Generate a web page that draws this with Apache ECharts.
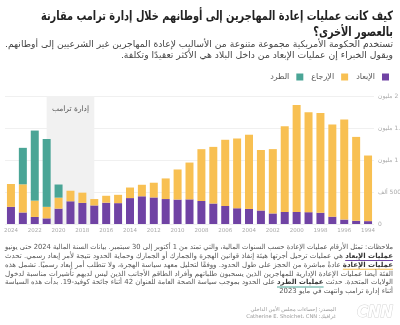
<!DOCTYPE html>
<html><head><meta charset="utf-8">
<script src="https://cdn.jsdelivr.net/npm/echarts@6/dist/echarts.min.js"></script>
<style>html,body{margin:0;padding:0;background:#fff}#c{width:400px;height:325px}</style>
</head><body><div id="c" dir="rtl"></div>
<script>
// ---- data ----
const years = ['2024','2023','2022','2021','2020','2019','2018','2017','2016','2015','2014','2013','2012','2011','2010','2009','2008','2007','2006','2005','2004','2003','2002','2001','2000','1999','1998','1997','1996','1995','1994'];
const removals = [268000,180000,110000,88000,240000,355000,330000,290000,333000,326000,405000,433000,415000,390000,382000,385000,359000,320000,281000,246000,235000,211000,165000,189000,188000,185000,176000,114000,69000,51000,45000];
const returns = [357000,440000,255000,180000,172000,165000,160000,100000,108000,130000,165000,180000,230000,322000,470000,575000,810000,885000,1035000,1090000,1160000,945000,1005000,1340000,1670000,1560000,1560000,1440000,1565000,1310000,1025000];
const expulsions = [0,570000,1095000,1060000,205000,0,0,0,0,0,0,0,0,0,0,0,0,0,0,0,0,0,0,0,0,0,0,0,0,0,0];
const seriesNames = ['الإبعاد','الإرجاع','الطرد'];
const yTickValues = [0,500000,1000000,1500000,2000000];
const yTickLabels = ['0','500 ألف','1 مليون','1.5 مليون','2 مليون'];
const trumpStart = '2021', trumpEnd = '2017';
const trumpLabel = 'إدارة ترامب';
const titleLines = ['كيف كانت عمليات إعادة المهاجرين إلى أوطانهم خلال إدارة ترامب مقارنة','بالعصور الأخرى؟'];
const subtitleLines = ['تستخدم الحكومة الأمريكية مجموعة متنوعة من الأساليب لإعادة المهاجرين غير الشرعيين إلى أوطانهم.','ويقول الخبراء إن عمليات الإبعاد من داخل البلاد هي الأكثر تعقيدًا وتكلفة.'];
const noteLines = [
  [['ملاحظات: تمثل الأرقام عمليات الإعادة حسب السنوات المالية، والتي تمتد من 1 أكتوبر إلى 30 سبتمبر. بيانات السنة المالية 2024 حتى يونيو',0]],
  [['عمليات الإبعاد',1],[' هي عمليات ترحيل أجرتها هيئة إنفاذ قوانين الهجرة والجمارك أو الجمارك وحماية الحدود نتيجة لأمر إبعاد رسمي. تحدث',0]],
  [['عمليات الإعادة',2],[' عادةً مباشرة من الحجز على طول الحدود. ووفقًا لتحليل معهد سياسة الهجرة، ولا تتطلب أمر إبعاد رسميًا. تشمل هذه',0]],
  [['الفئة أيضا عمليات الإعادة الإدارية للمهاجرين الذين يسحبون طلباتهم وأفراد الطاقم الأجانب الذين ليس لديهم تأشيرات مناسبة لدخول',0]],
  [['الولايات المتحدة. حدثت ',0],['عمليات الطرد',3],[' على الحدود بموجب سياسة الصحة العامة للعنوان 42 أثناء جائحة كوفيد-19. بدأت هذه السياسة',0]],
  [['أثناء إدارة ترامب وانتهت في مايو 2023',0]]
];
const sourceLines = ['المصدر: إحصاءات مجلس الأمن الداخلي','غرافيك: Catherine E. Shoichet، CNN'];

// ---- style ----
const colors = ['#7043a4','#f8c052','#4aa596'];
const FF = 'DejaVu Sans';
const chart = echarts.init(document.getElementById('c'), null, {renderer:'canvas'});

const mc = document.createElement('canvas').getContext('2d');
function tw(t, size, bold){ mc.font = (bold?'bold ':'') + size + 'px "' + FF + '"'; return mc.measureText(t).width; }

function txt(t, x, y, size, color, bold, align, sx){
  return {type:'text', x:x, y:y, scaleX:sx||1, style:{text:t, fontSize:size, fontFamily:FF, fontWeight:bold?'bold':'normal', fill:color, align:align||'right', verticalAlign:'middle'}};
}
const graphics = [];
// title
const TS = 12.8;
const tsx = 352 / tw(titleLines[0], TS, true);
titleLines.forEach((t,i)=>graphics.push(txt(t, 393, 17 + i*16, TS, '#222', true, 'right', tsx)));
// subtitle
const SS = 9.2;
const ssx = 388 / tw(subtitleLines[0], SS, false);
subtitleLines.forEach((t,i)=>graphics.push(txt(t, 393, 44.5 + i*11, SS, '#444', false, 'right', ssx)));

// notes (justified, right to left)
const NF = 7;
let lastS = 1;
noteLines.forEach((segs,i)=>{
  const y = 247 + i*8.9;
  let tot = 0;
  const ws = segs.map(s=>{ const w = tw(s[0], NF, !!s[1]); tot += w; return w; });
  let rich = '';
  segs.slice().reverse().forEach(s=>{ rich += (s[1]? '{b|':'{n|') + s[0] + '}'; });
  const s = (i < noteLines.length-1) ? 388 / tot : lastS;
  lastS = s;
  graphics.push({type:'text', x:393, y:y, scaleX:s, style:{text:rich, align:'right', verticalAlign:'middle',
    rich:{n:{fontSize:NF, fontFamily:FF, fill:'#555'}, b:{fontSize:NF, fontFamily:FF, fontWeight:'bold', fill:'#333'}}}});
  let xr = 393;
  segs.forEach((sg,k)=>{
    const w = ws[k]*s;
    if (sg[1]) graphics.push({type:'rect', shape:{x:xr-w, y:y+4, width:w, height:1}, style:{fill:colors[sg[1]-1]}});
    xr -= w;
  });
});
sourceLines.forEach((t,i)=>graphics.push(txt(t, 336, 310 + i*6.5, 5.2, '#999', false, 'right')));
graphics.push({type:'text', x:393, y:313, style:{text:'CNN', fontSize:15, fontWeight:'bold', fontStyle:'italic', fontFamily:FF, fill:'#fff', stroke:'#d5d5d5', lineWidth:1, align:'right', verticalAlign:'middle'}});

const option = {
  animation:false,
  color: colors,
  textStyle:{fontFamily:FF},
  legend:{data:[seriesNames[2],seriesNames[1],seriesNames[0]], right:6, top:68, itemWidth:7, itemHeight:7, itemGap:8, align:'right', icon:'rect', textStyle:{fontSize:8, color:'#555', fontFamily:FF, padding:[0,2,0,0]}},
  grid:{left:5, right:26, top:96, bottom:101, containLabel:false, outerBoundsMode:'none'},
  xAxis:{type:'category', data:years, axisLine:{show:false}, axisTick:{show:false},
    axisLabel:{interval:1, fontSize:5.5, color:'#aaa', margin:4}},
  yAxis:{type:'value', position:'right', min:0, max:2000000, interval:500000,
    splitLine:{lineStyle:{color:'#ececec', width:0.8}}, axisLine:{show:false}, axisTick:{show:false},
    axisLabel:{fontSize:6, color:'#aaa', margin:4, formatter:v=>yTickLabels[yTickValues.indexOf(v)]}},
  series:[
    {type:'line', name:'__shade', data:[], z:1, silent:true, showSymbol:false,
      markArea:{silent:true, itemStyle:{color:'#f1f1f1'}, label:{show:true, position:'insideTop', distance:9, color:'#555', fontSize:7.5, fontFamily:FF, formatter:trumpLabel},
        data:[[{xAxis:trumpStart},{xAxis:trumpEnd}]]}},
    {type:'bar', name:seriesNames[0], stack:'s', data:removals, barWidth:8, itemStyle:{color:colors[0]}},
    {type:'bar', name:seriesNames[1], stack:'s', data:returns, barWidth:8, itemStyle:{color:colors[1]}},
    {type:'bar', name:seriesNames[2], stack:'s', data:expulsions, barWidth:8, itemStyle:{color:colors[2]}}
  ],
  graphic: graphics
};
chart.setOption(option);
</script></body></html>
